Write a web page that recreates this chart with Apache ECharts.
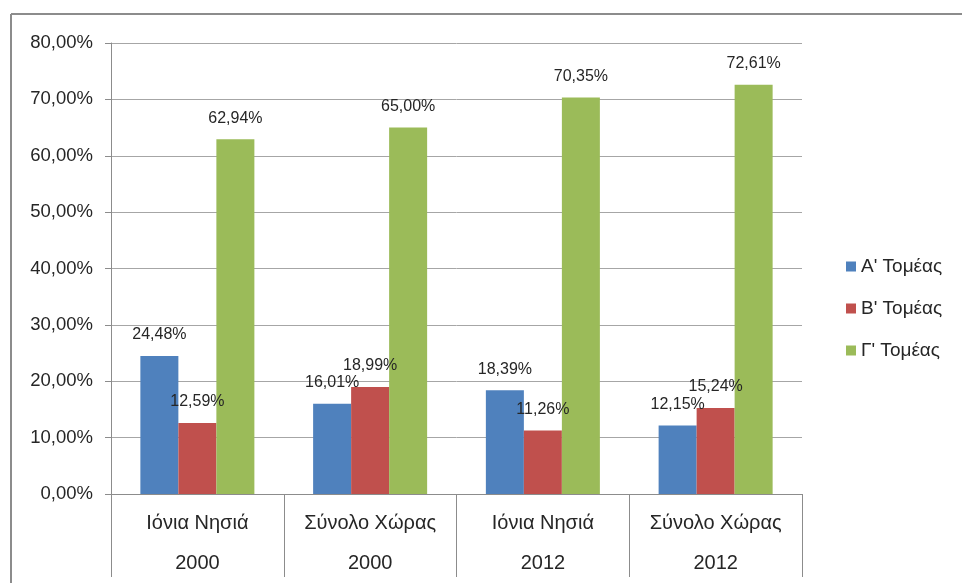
<!DOCTYPE html>
<html>
<head>
<meta charset="utf-8">
<script src="https://cdn.jsdelivr.net/npm/echarts@6/dist/echarts.min.js"></script>
<style>
  html, body { margin: 0; padding: 0; background: #fff; }
  #chart { width: 962px; height: 583px; }
</style>
</head>
<body>
<div id="chart"></div>
<script>
// data
var regions = ['Ιόνια Νησιά', 'Σύνολο Χώρας', 'Ιόνια Νησιά', 'Σύνολο Χώρας']
var years = ['2000', '2000', '2012', '2012']
var seriesNames = ["Α' Τομέας", "Β' Τομέας", "Γ' Τομέας"]
var sectorA = [24.48, 16.01, 18.39, 12.15]
var sectorB = [12.59, 18.99, 11.26, 15.24]
var sectorC = [62.94, 65.00, 70.35, 72.61]
var colors = ['#4F81BD', '#C0504D', '#9BBB59']

var font = 'Liberation Sans'

function pct(v) {
  return v.toFixed(2).replace('.', ',') + '%'
}

var categories = regions.map(function (r, i) { return r + '\n' + years[i] })

function makeSeries(name, data, color) {
  return {
    name: name,
    type: 'bar',
    data: data,
    barGap: 0,
    barCategoryGap: '34%',
    itemStyle: { color: color },
    label: {
      show: true,
      position: 'top',
      distance: 13,
      fontFamily: font,
      fontSize: 16,
      color: '#262626',
      formatter: function (p) { return pct(p.value) }
    }
  }
}

var chart = echarts.init(document.getElementById('chart'))
chart.setOption({
  animation: false,
  textStyle: { fontFamily: font },
  grid: { left: 111, right: 160, top: 43, bottom: 89 },
  legend: {
    orient: 'vertical',
    left: 841,
    top: 252,
    itemWidth: 10,
    itemHeight: 10,
    itemGap: 23,
    icon: 'rect',
    data: seriesNames,
    textStyle: { fontFamily: font, fontSize: 19, color: '#262626' }
  },
  xAxis: {
    type: 'category',
    data: categories,
    axisLine: { lineStyle: { color: '#8c8c8c', width: 1 } },
    axisTick: { show: true, length: 83, lineStyle: { color: '#8c8c8c' } },
    axisLabel: {
      margin: 9,
      lineHeight: 40,
      fontFamily: font,
      fontSize: 20,
      color: '#262626'
    }
  },
  yAxis: {
    type: 'value',
    min: 0,
    max: 80,
    interval: 10,
    axisLine: { show: true, lineStyle: { color: '#8c8c8c' } },
    axisTick: { show: true, length: 6, lineStyle: { color: '#8c8c8c' } },
    splitLine: { lineStyle: { color: '#a6a6a6' } },
    axisLabel: {
      margin: 18,
      fontFamily: font,
      fontSize: 18.5,
      color: '#262626',
      formatter: function (v) { return pct(v) }
    }
  },
  graphic: [
    { type: 'line', shape: { x1: 11, y1: 14, x2: 962, y2: 14 }, style: { stroke: '#8c8c8c', lineWidth: 2 } },
    { type: 'line', shape: { x1: 11, y1: 14, x2: 11, y2: 583 }, style: { stroke: '#8c8c8c', lineWidth: 2 } }
  ],
  series: [
    makeSeries(seriesNames[0], sectorA, colors[0]),
    makeSeries(seriesNames[1], sectorB, colors[1]),
    makeSeries(seriesNames[2], sectorC, colors[2])
  ]
})
</script>
</body>
</html>
